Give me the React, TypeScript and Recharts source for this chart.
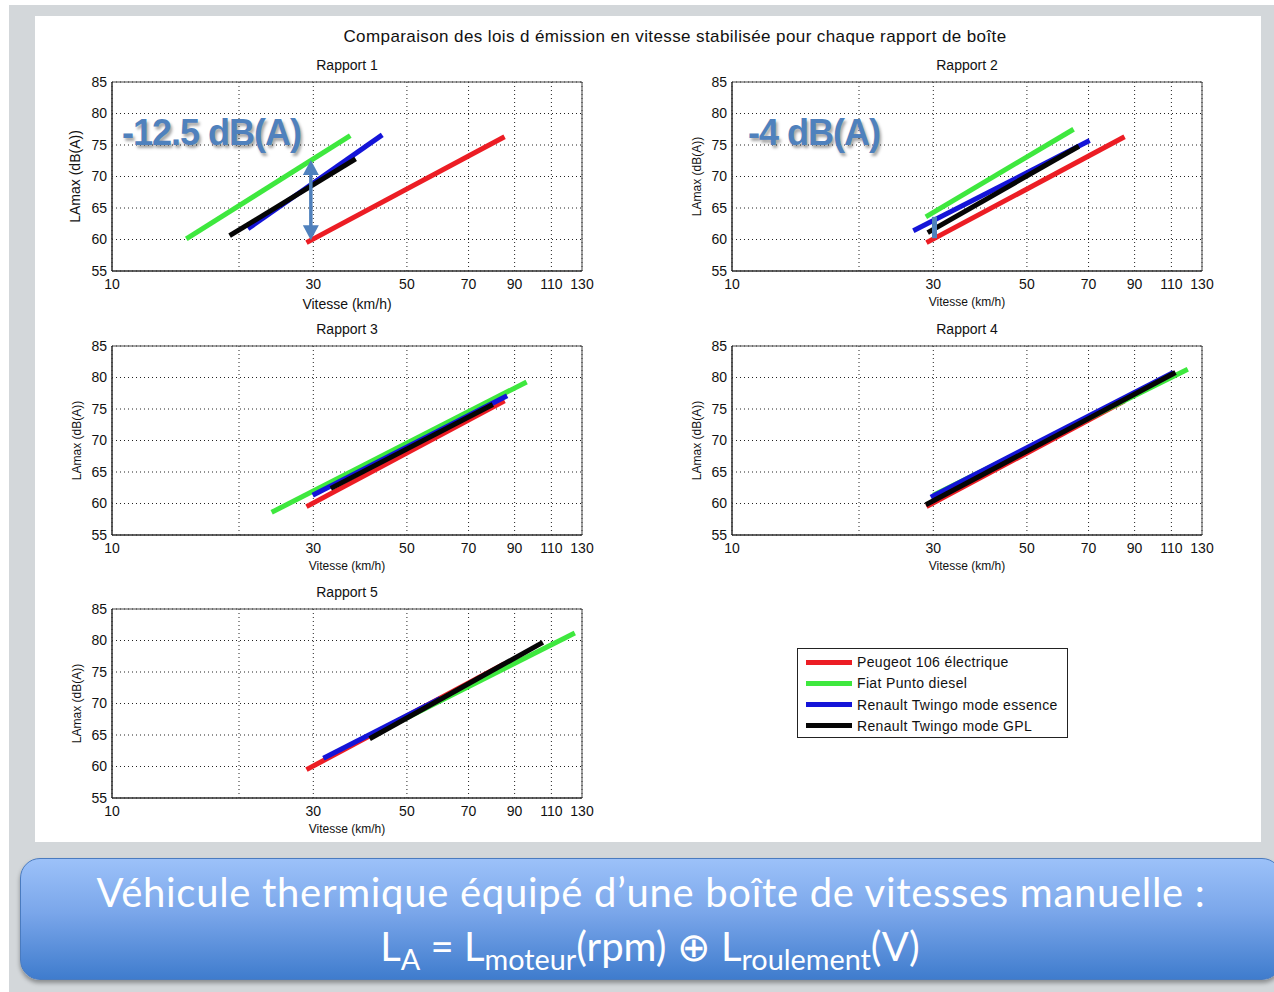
import React from 'react';
import {
  LineChart,
  Line,
  XAxis,
  YAxis,
  CartesianGrid,
  ReferenceArea,
  ReferenceLine,
  ReferenceDot,
} from 'recharts';

const FONT = '"Liberation Sans", Arial, Helvetica, sans-serif';

const speedTicks = [10, 20, 30, 50, 70, 90, 110, 130];
const levelTicks = [55, 60, 65, 70, 75, 80, 85];

const vehicles = [
  'Peugeot 106 électrique',
  'Fiat Punto diesel',
  'Renault Twingo mode essence',
  'Renault Twingo mode GPL',
];
const vehicleColors = ['#ec1d24', '#3ee83e', '#1414d8', '#050505'];

// Peugeot électrique : pas de boîte, même loi sur chaque rapport
const peugeot = [{ v: 28.9, l: 59.5 }, { v: 85.2, l: 76.3 }];

const r1Punto = [{ v: 15.0, l: 60.1 }, { v: 36.7, l: 76.5 }];
const r1Essence = [{ v: 21.0, l: 61.7 }, { v: 43.7, l: 76.6 }];
const r1Gpl = [{ v: 19.0, l: 60.6 }, { v: 37.8, l: 72.8 }];

const r2Punto = [{ v: 28.8, l: 63.6 }, { v: 64.5, l: 77.5 }];
const r2Essence = [{ v: 26.9, l: 61.4 }, { v: 70.4, l: 75.7 }];
const r2Gpl = [{ v: 29.1, l: 61.1 }, { v: 66.4, l: 74.8 }];

const r3Punto = [{ v: 23.9, l: 58.6 }, { v: 96.1, l: 79.3 }];
const r3Essence = [{ v: 29.9, l: 61.3 }, { v: 86.4, l: 77.1 }];
const r3Gpl = [{ v: 33.0, l: 62.4 }, { v: 79.9, l: 75.7 }];

const r4Punto = [{ v: 30.0, l: 61.3 }, { v: 120.3, l: 81.3 }];
const r4Essence = [{ v: 29.6, l: 61.0 }, { v: 111.2, l: 80.8 }];
const r4Gpl = [{ v: 28.8, l: 59.8 }, { v: 112.5, l: 80.8 }];

const r5Punto = [{ v: 45.0, l: 66.2 }, { v: 125.0, l: 81.2 }];
const r5Essence = [{ v: 31.7, l: 61.3 }, { v: 60.0, l: 70.8 }];
const r5Gpl = [{ v: 40.8, l: 64.4 }, { v: 105.0, l: 79.7 }];

// écarts annotés (rapport 1 : flèche, rapport 2 : barre)
const gap1 = { v: 29.6, top: 72.6, bottom: 59.9 };
const gap2 = { v: 30.2, top: 63.6, bottom: 60.2 };

const ANNOT = '#4f81bd';

const upHead = (p: any) => (
  <polygon points={`${p.cx},${p.cy} ${p.cx - 8},${p.cy + 15} ${p.cx + 8},${p.cy + 15}`} fill={ANNOT} />
);
const downHead = (p: any) => (
  <polygon points={`${p.cx},${p.cy} ${p.cx - 8},${p.cy - 15} ${p.cx + 8},${p.cy - 15}`} fill={ANNOT} />
);

function Panel({ left, top, title, big, series, children }: any) {
  const fs = big ? 14 : 12;
  return (
    <>
      <div
        style={{
          position: 'absolute',
          left,
          top: top - 25,
          width: 470,
          textAlign: 'center',
          fontFamily: FONT,
          fontSize: 14,
          color: '#111',
        }}
      >
        {title}
      </div>
      <div style={{ position: 'absolute', left: left - 70, top: top - 20 }}>
        <LineChart width={560} height={260} margin={{ top: 20, right: 20, bottom: 0, left: 30 }}>
          <CartesianGrid stroke="#222" strokeDasharray="1 3" />
          <XAxis
            dataKey="v"
            type="number"
            scale="log"
            domain={[10, 130]}
            allowDataOverflow
            ticks={speedTicks}
            tickFormatter={(t: number) => (t === 20 ? '' : String(t))}
            tick={{ fontSize: 14, fill: '#111', fontFamily: FONT }}
            tickLine={false}
            tickSize={0}
            tickMargin={8}
            axisLine={{ stroke: '#222' }}
            height={51}
            label={{
              value: 'Vitesse (km/h)',
              position: 'insideBottom',
              offset: big ? 13 : 16,
              fontSize: fs,
              fill: '#111',
              fontFamily: FONT,
            }}
          />
          <YAxis
            dataKey="l"
            type="number"
            domain={[55, 85]}
            ticks={levelTicks}
            tick={{ fontSize: 14, fill: '#111', fontFamily: FONT }}
            tickLine={false}
            tickSize={0}
            tickMargin={5}
            axisLine={{ stroke: '#222' }}
            width={40}
            label={{
              content: () => (
                <text
                  x={big ? 33 : 35}
                  y={114.5}
                  transform={`rotate(-90 ${big ? 33 : 35} 114.5)`}
                  textAnchor="middle"
                  dominantBaseline="central"
                  fontSize={fs}
                  fill="#111"
                  fontFamily={FONT}
                >
                  LAmax (dB(A))
                </text>
              ),
            }}
          />
          <ReferenceArea x1={10} x2={130} y1={55} y2={85} fill="none" stroke="#444" strokeWidth={1} />
          {series.map((s: any, i: number) => (
            <Line
              key={vehicles[i]}
              data={s}
              dataKey="l"
              name={vehicles[i]}
              stroke={vehicleColors[i]}
              strokeWidth={5}
              dot={false}
              activeDot={false}
              isAnimationActive={false}
            />
          ))}
          {children}
        </LineChart>
      </div>
    </>
  );
}

function Annotation({ left, top, text }: any) {
  return (
    <div
      style={{
        position: 'absolute',
        left,
        top,
        fontFamily: FONT,
        fontWeight: 'bold',
        fontSize: 36,
        letterSpacing: -1,
        color: ANNOT,
        textShadow: '2px 3px 3px rgba(0,0,0,0.35)',
        lineHeight: '38px',
        whiteSpace: 'nowrap',
      }}
    >
      {text}
    </div>
  );
}

export default function App() {
  const sub = { fontSize: '0.72em', verticalAlign: '-0.32em' } as React.CSSProperties;
  return (
    <div
      style={{
        position: 'absolute',
        left: 0,
        top: 0,
        width: 1274,
        height: 992,
        overflow: 'hidden',
        background: '#ffffff',
      }}
    >
      <div style={{ position: 'absolute', left: 9, top: 5, width: 1265, height: 987, background: '#d3d7da' }} />
      <div style={{ position: 'absolute', left: 35, top: 16, width: 1226, height: 826, background: '#ffffff' }} />

      <div
        style={{
          position: 'absolute',
          left: 275,
          top: 27,
          width: 800,
          textAlign: 'center',
          fontFamily: FONT,
          fontSize: 17,
          letterSpacing: 0.4,
          color: '#111',
          whiteSpace: 'nowrap',
        }}
      >
        Comparaison des lois d émission en vitesse stabilisée pour chaque rapport de boîte
      </div>

      <Panel left={112} top={82} title="Rapport 1" big series={[peugeot, r1Punto, r1Essence, r1Gpl]}>
        <ReferenceLine
          segment={[
            { x: gap1.v, y: gap1.top - 1.5 },
            { x: gap1.v, y: gap1.bottom + 1.5 },
          ]}
          stroke={ANNOT}
          strokeWidth={3.5}
        />
        <ReferenceDot x={gap1.v} y={gap1.top} r={1} shape={upHead} />
        <ReferenceDot x={gap1.v} y={gap1.bottom} r={1} shape={downHead} />
      </Panel>
      <Panel left={732} top={82} title="Rapport 2" series={[peugeot, r2Punto, r2Essence, r2Gpl]}>
        <ReferenceLine
          segment={[
            { x: gap2.v, y: gap2.top },
            { x: gap2.v, y: gap2.bottom },
          ]}
          stroke={ANNOT}
          strokeWidth={5}
        />
      </Panel>
      <Panel left={112} top={346} title="Rapport 3" series={[peugeot, r3Punto, r3Essence, r3Gpl]} />
      <Panel left={732} top={346} title="Rapport 4" series={[peugeot, r4Punto, r4Essence, r4Gpl]} />
      <Panel left={112} top={609} title="Rapport 5" series={[peugeot, r5Punto, r5Essence, r5Gpl]} />

      <Annotation left={122} top={114} text="-12.5 dB(A)" />
      <Annotation left={748} top={114} text="-4 dB(A)" />

      <div
        style={{
          position: 'absolute',
          left: 797,
          top: 648,
          width: 269,
          height: 88,
          border: '1px solid #222',
          background: '#fff',
          fontFamily: FONT,
          fontSize: 14,
          letterSpacing: 0.35,
          color: '#111',
        }}
      >
        {vehicles.map((name, i) => (
          <div key={name} style={{ position: 'absolute', left: 8, top: 3 + i * 21.3, height: 20, display: 'flex', alignItems: 'center' }}>
            <div style={{ width: 46, height: 5, background: vehicleColors[i], marginRight: 5 }} />
            <span>{name}</span>
          </div>
        ))}
      </div>

      <div
        style={{
          position: 'absolute',
          left: 20,
          top: 858,
          width: 1262,
          height: 122,
          borderRadius: 20,
          border: '1px solid #4a7bbf',
          background: 'linear-gradient(#9cc1f9 0%, #7aa6ea 45%, #3f7ccd 100%)',
          boxShadow: '0 3px 4px rgba(0,0,0,0.35)',
          color: '#ffffff',
          fontFamily: 'Lato, "Open Sans", sans-serif',
          fontSize: 40,
          textAlign: 'center',
          boxSizing: 'border-box',
        }}
      >
        <div style={{ position: 'absolute', left: 0, width: 1260, top: 9, lineHeight: '48px', whiteSpace: 'nowrap', letterSpacing: 0.7 }}>
          Véhicule thermique équipé d’une boîte de vitesses manuelle :
        </div>
        <div style={{ position: 'absolute', left: 0, width: 1258, top: 63, lineHeight: '48px', whiteSpace: 'nowrap' }}>
          L<span style={sub}>A</span> = L<span style={sub}>moteur</span>(rpm) ⊕ L<span style={sub}>roulement</span>(V)
        </div>
      </div>
    </div>
  );
}
